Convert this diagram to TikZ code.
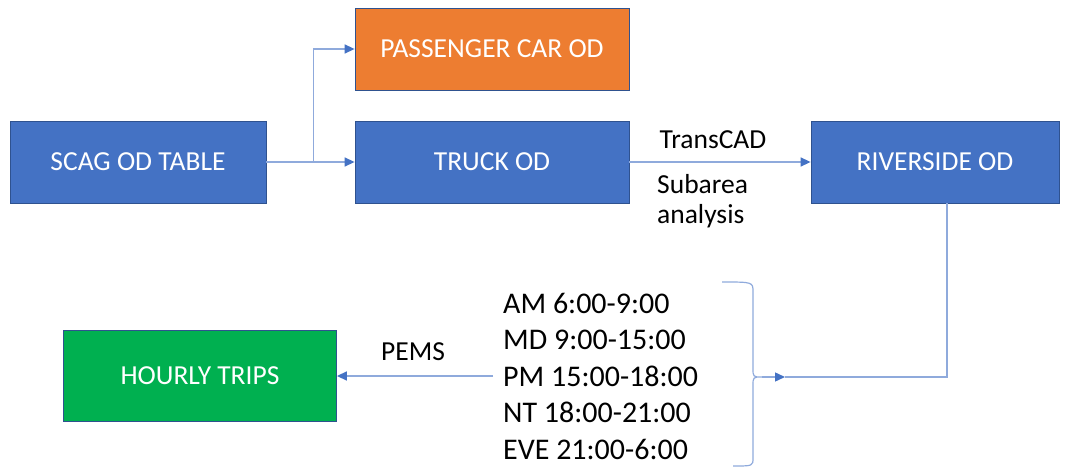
\documentclass[tikz,border=0pt]{standalone}
\usepackage{fontspec}
\setmainfont{Carlito}
\usepackage{tikz}
\usetikzlibrary{arrows.meta,positioning,calc}

\definecolor{boxblue}{RGB}{68,114,196}
\definecolor{boxedge}{RGB}{47,82,143}
\definecolor{boxorange}{RGB}{237,125,49}
\definecolor{boxgreen}{RGB}{0,176,80}
\definecolor{linkblue}{RGB}{143,170,220}

\tikzset{
    odbox/.style={draw=boxedge, line width=0.8pt, fill=boxblue, text=white,
                  minimum height=82pt, inner sep=0pt,
                  font=\fontsize{27.5}{30}\selectfont},
    link/.style={draw=linkblue, line width=1.4pt},
    flow/.style={link, -{Triangle[length=10pt,width=9pt,fill=boxblue,color=boxblue]}},
    note/.style={inner sep=0pt, text=black, font=\fontsize{27.5}{30}\selectfont},
}

\begin{document}
\begin{tikzpicture}[x=1pt, y=-1pt]
    \useasboundingbox (0,0) rectangle (1071,468);
    % Boxes -----------------------------------------------------
    \node[odbox, minimum width=256pt] (scag) at (138,162) {SCAG OD TABLE};
    \node[odbox, minimum width=274pt, fill=boxorange] (pcar) at (492,49) {PASSENGER CAR OD};
    \node[odbox, minimum width=274pt] (truck) at (492,162) {TRUCK OD};
    \node[odbox, minimum width=248pt] (riverside) at (935,162) {RIVERSIDE OD};
    \node[odbox, minimum width=273pt, minimum height=91pt, fill=boxgreen] (hourly) at (200,376) {HOURLY TRIPS};
    % Time periods ------------------------------------------------
    \node[anchor=west, align=left, inner sep=10pt, font=\fontsize{30}{36.5}\selectfont] (periods) at (493,376)
        {AM 6:00-9:00\\ MD 9:00-15:00\\ PM 15:00-18:00\\ NT 18:00-21:00\\ EVE 21:00-6:00};
    % Labels ------------------------------------------------------
    \node[note] (transcad) at (713,140) {TransCAD};
    \node[note, anchor=west, align=left] (subarea) at (657,201) {Subarea\\ analysis};
    \node[note] (pems) at (413,352) {PEMS};
    % Brace -------------------------------------------------------
    \coordinate (btop) at (722,282);
    \coordinate (bbot) at (733,466);
    \coordinate (btip) at (762,377);
    \coordinate (bout) at (785,377);
    \draw[link, line width=1.2pt] (btop) .. controls (753,282) .. (753,292) -- (753,368)
        .. controls (753,377) .. (btip) .. controls (753,377) .. (753,386) -- (753,458)
        .. controls (753,466) .. (bbot);
    % Connectors --------------------------------------------------
    \coordinate (split) at ($(scag.east)+(47,0)$);
    \draw[flow] (scag.east) -- (truck.west);
    \draw[flow] (split) |- (pcar.west);
    \draw[flow] (truck.east) -- (riverside.west);
    \draw[link] (riverside.south -| 947,0) |- (bout);
    \draw[flow] (btip) -- (bout);
    \draw[flow] (periods.west) -- (hourly.east);
\end{tikzpicture}
\end{document}
